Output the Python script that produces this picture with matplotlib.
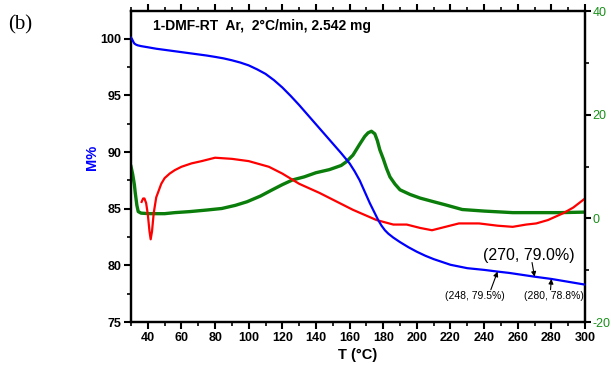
import matplotlib
matplotlib.use("Agg")
import matplotlib.pyplot as plt
from matplotlib.ticker import MultipleLocator

# ---- data ----
T_blue = [30, 30.5, 31, 31.5, 32, 33, 34, 36, 40, 45, 50, 55, 60, 65, 70, 75, 80, 85, 90,
          95, 100, 105, 110, 115, 120, 125, 130, 135, 140, 145, 150, 155, 160, 163, 166,
          169, 172, 175, 177, 179, 181, 183, 186, 190, 195, 200, 205, 210, 215, 220, 225,
          230, 240, 248, 255, 260, 270, 280, 290, 300]
M_blue = [100.1, 100.0, 99.85, 99.7, 99.58, 99.48, 99.42, 99.35, 99.25, 99.12, 99.02,
          98.92, 98.82, 98.72, 98.62, 98.52, 98.4, 98.27, 98.1, 97.9, 97.65, 97.3, 96.9,
          96.35, 95.7, 94.95, 94.15, 93.3, 92.45, 91.6, 90.75, 89.9, 89.0, 88.3, 87.5,
          86.5, 85.5, 84.6, 84.0, 83.5, 83.1, 82.8, 82.45, 82.05, 81.6, 81.2, 80.85, 80.55,
          80.3, 80.05, 79.9, 79.75, 79.6, 79.45, 79.33, 79.22, 79.0, 78.8, 78.55, 78.3]

T_red = [36.3, 37.2, 38.0, 39.0, 40.0, 41.0, 41.7, 42.5, 43.5, 45.0, 46.5, 48, 50, 53, 56,
         60, 66, 72, 80, 90, 100, 112, 120, 130, 142, 150, 162, 176, 186, 194, 202, 209,
         217, 225, 237, 248, 257, 265, 271, 278, 287, 293, 300]
M_red = [85.6, 85.9, 85.9, 85.5, 84.5, 83.0, 82.3, 83.0, 84.6, 86.0, 86.6, 87.2, 87.7, 88.1,
         88.4, 88.7, 89.0, 89.2, 89.5, 89.4, 89.2, 88.7, 88.1, 87.2, 86.4, 85.8, 84.9, 84.0,
         83.6, 83.6, 83.3, 83.1, 83.4, 83.7, 83.7, 83.5, 83.4, 83.6, 83.7, 84.0, 84.6, 85.1, 85.9]

T_green = [30, 31, 32, 32.5, 33.5, 34.3, 36, 41, 50, 56, 65, 75, 84, 92, 99, 107, 114, 120,
           126, 133, 140, 148, 155, 158, 162, 166, 169, 171, 173, 175, 176.5, 178, 180, 182,
           184, 187, 190, 196, 202, 210, 217, 227, 240, 257, 270, 285, 300]
G_green = [10.0, 8.5, 6.5, 5.0, 2.5, 1.3, 1.0, 0.9, 0.9, 1.1, 1.3, 1.6, 1.9, 2.5, 3.2, 4.3,
           5.5, 6.5, 7.4, 8.0, 8.8, 9.4, 10.2, 10.9, 12.2, 14.3, 15.8, 16.5, 16.8, 16.3, 15.0,
           13.2, 11.5, 9.6, 8.0, 6.6, 5.5, 4.6, 3.9, 3.2, 2.6, 1.7, 1.4, 1.1, 1.1, 1.1, 1.2]

x_ticks = list(range(40, 301, 20))
y_ticks = [75, 80, 85, 90, 95, 100]
y2_ticks = [-20, 0, 20, 40]

title_text = "1-DMF-RT  Ar,  2\u00b0C/min, 2.542 mg"

plt.rcParams['font.family'] = ['Liberation Sans', 'DejaVu Sans']
plt.rcParams['axes.unicode_minus'] = False

fig = plt.figure(figsize=(6.11, 3.65), dpi=100)
ax = fig.add_axes([131/611, 1-322/365, 454/611, 311/365])
ax2 = ax.twinx()

ax.plot(T_blue, M_blue, color='#0000ff', lw=1.6, zorder=3)
ax.plot(T_red, M_red, color='#ff0000', lw=1.6, zorder=2)
ax2.plot(T_green, G_green, color='#0a7d0a', lw=2.4)

ax.set_zorder(ax2.get_zorder() + 1)
ax.patch.set_visible(False)

ax.set_xlim(30, 300)
ax.set_ylim(75, 102.45)
ax2.set_ylim(-20, 40)

ax.set_xticks(x_ticks)
ax.xaxis.set_minor_locator(MultipleLocator(10))
ax.set_yticks(y_ticks)
ax.yaxis.set_minor_locator(MultipleLocator(2.5))
ax2.set_yticks(y2_ticks)
ax2.yaxis.set_minor_locator(MultipleLocator(10))

for a in (ax, ax2):
    for s in a.spines.values():
        s.set_linewidth(1.6)

ax.tick_params(axis='both', which='major', direction='out', length=5, width=1.5,
               labelsize=9, pad=2)
ax.tick_params(axis='both', which='minor', direction='out', length=3, width=1.2)
ax.tick_params(axis='x', which='both', top=True)
for lab in ax.get_xticklabels() + ax.get_yticklabels():
    lab.set_fontweight('bold')

ax2.tick_params(axis='y', which='major', direction='out', length=4, width=1.5,
                labelsize=9, labelcolor='#1a8f1a', pad=1.5)
ax2.tick_params(axis='y', which='minor', direction='out', length=3, width=1.2)

ax.set_xlabel("T (\u00b0C)", fontsize=10.5, fontweight='bold', labelpad=3)
ax.set_ylabel("M%", fontsize=10.5, fontweight='bold', color='#0000ff')
ax.yaxis.set_label_coords(-0.07, 0.53)

ax.text(0.048, 0.953, title_text, transform=ax.transAxes, fontsize=10,
        fontweight='bold', ha='left', va='center')

fig.text(8/611, 1-25/365, "(b)", fontsize=15, family=['Liberation Serif', 'DejaVu Serif'],
         ha='left', va='center')

# annotations
ax.text(266.8, 80.9, "(270, 79.0%)", fontsize=11.5, ha='center', va='center')
ax.annotate("", xy=(270, 79.0), xytext=(268.5, 80.25),
            arrowprops=dict(arrowstyle='-|>', color='black', lw=0.8,
                            mutation_scale=7, shrinkA=0, shrinkB=0))
ax.text(234.5, 77.3, "(248, 79.5%)", fontsize=7.5, ha='center', va='center')
ax.annotate("", xy=(248, 79.45), xytext=(244, 77.85),
            arrowprops=dict(arrowstyle='-|>', color='black', lw=0.8,
                            mutation_scale=7, shrinkA=0, shrinkB=0))
ax.text(281.8, 77.3, "(280, 78.8%)", fontsize=7.5, ha='center', va='center')
ax.annotate("", xy=(280, 78.8), xytext=(279.5, 77.85),
            arrowprops=dict(arrowstyle='-|>', color='black', lw=0.8,
                            mutation_scale=7, shrinkA=0, shrinkB=0))

fig.savefig("out.png", dpi=100)
